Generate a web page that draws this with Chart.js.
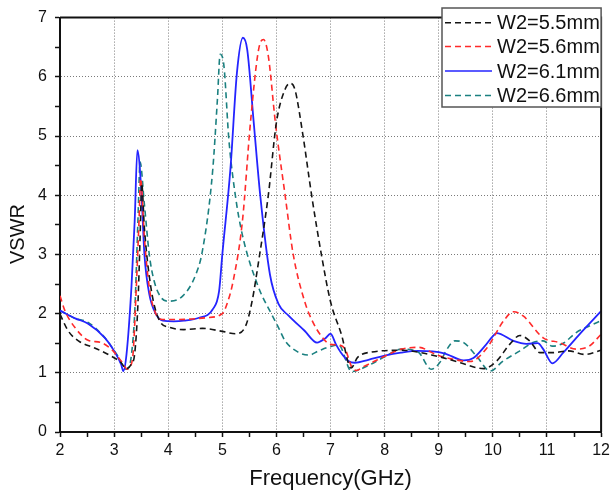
<!DOCTYPE html>
<html>
<head>
<meta charset="utf-8">
<title>VSWR</title>
<script src="https://cdn.jsdelivr.net/npm/chart.js@4.4.0/dist/chart.umd.min.js"></script>
<style>
  html, body { margin: 0; padding: 0; background: #fff; }
  #wrap { width: 614px; height: 492px; }
</style>
</head>
<body>
<div id="wrap"><canvas id="myChart" width="614" height="492"></canvas></div>
<script>
// series (frequency in GHz, VSWR)
var labels = ['W2=5.5mm', 'W2=5.6mm', 'W2=6.1mm', 'W2=6.6mm']

var f55 = [2.0, 2.15, 2.34, 2.64, 2.95, 3.13, 3.22, 3.32, 3.38, 3.44, 3.48, 3.51, 3.56, 3.68, 3.84, 4.02, 4.29, 4.63, 5.0, 5.24, 5.43, 5.55, 5.67, 5.85, 6.0, 6.16, 6.25, 6.34, 6.49, 6.65, 6.83, 7.0, 7.2, 7.38, 7.5, 7.76, 8.31, 8.97, 9.4, 9.83, 10.07, 10.31, 10.5, 10.68, 10.87, 11.1, 11.4, 11.7, 12.0]
var v55 = [1.99, 1.71, 1.54, 1.42, 1.28, 1.17, 1.07, 1.15, 1.32, 2.16, 3.28, 4.2, 3.44, 2.44, 1.88, 1.77, 1.73, 1.75, 1.7, 1.66, 1.79, 2.21, 2.88, 4.0, 5.23, 5.79, 5.89, 5.79, 5.01, 4.0, 3.0, 2.2, 1.65, 1.08, 1.26, 1.35, 1.38, 1.28, 1.17, 1.07, 1.2, 1.48, 1.63, 1.54, 1.34, 1.34, 1.37, 1.31, 1.38]

var f56 = [2.0, 2.09, 2.28, 2.52, 2.76, 2.98, 3.13, 3.25, 3.29, 3.35, 3.41, 3.46, 3.49, 3.56, 3.65, 3.77, 3.9, 4.17, 4.7, 5.0, 5.1, 5.2, 5.37, 5.52, 5.67, 5.76, 5.85, 5.98, 6.16, 6.31, 6.52, 6.65, 6.83, 7.0, 7.15, 7.27, 7.39, 7.48, 7.6, 7.76, 8.0, 8.31, 8.62, 8.97, 9.2, 9.58, 9.89, 10.2, 10.38, 10.56, 10.93, 11.23, 11.54, 11.78, 12.0]
var v56 = [2.3, 2.05, 1.76, 1.55, 1.51, 1.37, 1.2, 1.06, 1.1, 1.32, 2.44, 3.56, 4.28, 3.28, 2.44, 2.0, 1.9, 1.9, 1.93, 2.0, 2.2, 2.55, 3.55, 5.23, 6.46, 6.63, 6.35, 5.23, 4.0, 3.0, 2.21, 1.9, 1.62, 1.48, 1.47, 1.4, 1.1, 1.04, 1.1, 1.17, 1.28, 1.4, 1.43, 1.3, 1.24, 1.19, 1.42, 1.88, 2.03, 1.96, 1.59, 1.51, 1.4, 1.45, 1.65]

var f61 = [2.0, 2.28, 2.52, 2.83, 3.0, 3.13, 3.17, 3.23, 3.32, 3.38, 3.43, 3.5, 3.56, 3.65, 3.77, 3.9, 4.1, 4.29, 4.57, 4.82, 4.94, 5.0, 5.15, 5.27, 5.38, 5.46, 5.58, 5.7, 5.88, 6.04, 6.22, 6.52, 6.75, 6.9, 7.0, 7.1, 7.2, 7.33, 7.45, 7.7, 8.0, 8.3, 8.62, 9.1, 9.46, 9.64, 9.85, 10.0, 10.07, 10.38, 10.62, 10.83, 10.93, 11.1, 11.3, 11.6, 12.0]
var v61 = [2.05, 1.92, 1.83, 1.59, 1.37, 1.14, 1.03, 1.32, 2.44, 3.56, 4.76, 4.12, 3.0, 2.33, 2.0, 1.88, 1.87, 1.88, 1.93, 2.07, 2.38, 3.0, 4.45, 6.07, 6.66, 6.46, 5.23, 4.0, 2.66, 2.16, 1.97, 1.71, 1.51, 1.58, 1.66, 1.48, 1.33, 1.2, 1.17, 1.22, 1.29, 1.34, 1.37, 1.33, 1.21, 1.25, 1.45, 1.62, 1.67, 1.54, 1.49, 1.5, 1.4, 1.16, 1.34, 1.65, 2.04]

var f66 = [2.0, 2.28, 2.52, 2.83, 3.07, 3.22, 3.28, 3.32, 3.38, 3.44, 3.48, 3.56, 3.65, 3.74, 3.87, 4.0, 4.27, 4.51, 4.63, 4.82, 4.91, 4.96, 5.03, 5.12, 5.24, 5.37, 5.67, 5.91, 6.04, 6.16, 6.4, 6.6, 6.78, 7.02, 7.15, 7.39, 7.69, 8.0, 8.31, 8.62, 8.86, 9.04, 9.12, 9.3, 9.46, 9.7, 9.95, 10.19, 10.5, 10.74, 10.93, 11.1, 11.3, 11.54, 11.78, 12.0]
var v66 = [2.05, 1.92, 1.85, 1.59, 1.28, 1.06, 1.11, 1.3, 2.0, 3.56, 4.56, 3.84, 3.0, 2.55, 2.27, 2.21, 2.3, 2.66, 3.05, 4.4, 5.63, 6.38, 6.18, 4.95, 4.0, 3.33, 2.44, 1.99, 1.76, 1.54, 1.35, 1.3, 1.37, 1.45, 1.47, 1.02, 1.12, 1.27, 1.4, 1.35, 1.06, 1.2, 1.35, 1.54, 1.51, 1.28, 1.03, 1.2, 1.37, 1.51, 1.54, 1.45, 1.5, 1.68, 1.79, 1.88]

var xTicks = [2, 3, 4, 5, 6, 7, 8, 9, 10, 11, 12]
var yTicks = [0, 1, 2, 3, 4, 5, 6, 7]

var colors = ['#151515', '#ff2a2a', '#2424ff', '#1b8080']
var dashes = [[6, 4], [6, 4], [], [6, 4]]

function pts (xs, ys) {
  var out = []
  for (var i = 0; i < xs.length; i++) {
    out.push({x: xs[i], y: ys[i]})
  }
  return out
}

var series = [pts(f55, v55), pts(f56, v56), pts(f61, v61), pts(f66, v66)]
var datasets = []
for (var i = 0; i < series.length; i++) {
  datasets.push({
    label: labels[i],
    data: series[i],
    borderColor: colors[i],
    borderWidth: i == 2 ? 1.8 : 1.6,
    borderDash: dashes[i],
    pointRadius: 0,
    fill: false,
    cubicInterpolationMode: 'monotone'
  })
}

var FONT = 'Liberation Sans, Arial, sans-serif'

function isMajor (v, list) {
  return list.indexOf(v) >= 0
}

// grid only on inner integer values, minor half-steps only get ticks
function gridColor (list, lo, hi) {
  return function (c) {
    var v = c.tick ? c.tick.value : null
    if (v !== null && isMajor(v, list) && v > lo && v < hi) return '#7a7a7a'
    return 'rgba(0,0,0,0)'
  }
}

// top/right frame + legend box + y title
var extras = {
  id: 'extras',
  afterDraw (chart) {
    var ctx = chart.ctx
    var a = chart.chartArea
    ctx.save()
    ctx.strokeStyle = '#111'
    ctx.lineWidth = 2
    ctx.beginPath()
    ctx.moveTo(a.left, a.top)
    ctx.lineTo(a.right, a.top)
    ctx.lineTo(a.right, a.bottom)
    ctx.stroke()

    // legend
    var bx = 442, by = 8, bw = a.right - 442, bh = 99
    ctx.fillStyle = '#fff'
    ctx.fillRect(bx, by, bw, bh)
    ctx.strokeStyle = '#555'
    ctx.lineWidth = 1.5
    ctx.strokeRect(bx, by, bw, bh)
    var rows = [22.7, 46.5, 71, 95.5]
    ctx.font = '20px ' + FONT
    ctx.textBaseline = 'middle'
    ctx.textAlign = 'left'
    for (var i = 0; i < labels.length; i++) {
      ctx.strokeStyle = colors[i]
      ctx.lineWidth = 1.6
      ctx.setLineDash(dashes[i])
      ctx.beginPath()
      ctx.moveTo(445, rows[i])
      ctx.lineTo(492, rows[i])
      ctx.stroke()
      ctx.setLineDash([])
      ctx.fillStyle = '#111'
      ctx.fillText(labels[i], 497, rows[i] + 1)
    }

    // y title
    ctx.translate(18, 234)
    ctx.rotate(-Math.PI / 2)
    ctx.textAlign = 'center'
    ctx.font = '20px ' + FONT
    ctx.fillText('VSWR', 0, 0)
    ctx.restore()
  }
}

var ctx = document.getElementById('myChart').getContext('2d')
var chart = new Chart(ctx, {
  type: 'line',
  data: {datasets: datasets},
  plugins: [extras],
  options: {
    responsive: false,
    animation: false,
    layout: {padding: {top: 15, right: 9, left: 0, bottom: 0}},
    plugins: {
      legend: {display: false},
      tooltip: {enabled: false}
    },
    scales: {
      x: {
        type: 'linear',
        min: 2,
        max: 12,
        afterFit (s) { s.height = 60 },
        ticks: {
          stepSize: 0.5,
          autoSkip: false,
          maxRotation: 0,
          padding: 4,
          color: '#111',
          font: {family: FONT, size: 16},
          callback (v) { return isMajor(v, xTicks) ? String(v) : '' }
        },
        grid: {
          color: gridColor(xTicks, 2, 12),
          lineWidth: 1,
          tickColor: '#111',
          tickWidth: 1.5,
          tickLength: 5
        },
        border: {display: true, color: '#111', width: 2, dash: [1, 2]},
        title: {
          display: true,
          text: 'Frequency(GHz)',
          color: '#111',
          font: {family: FONT, size: 22},
          padding: {top: 0, bottom: 0}
        }
      },
      y: {
        min: 0,
        max: 7,
        afterFit (s) { s.width = 60 },
        ticks: {
          stepSize: 0.5,
          autoSkip: false,
          padding: 8,
          color: '#111',
          font: {family: FONT, size: 16},
          callback (v) { return isMajor(v, yTicks) ? String(v) : '' }
        },
        grid: {
          color: gridColor(yTicks, 0, 7),
          lineWidth: 1,
          tickColor: '#111',
          tickWidth: 1.5,
          tickLength: 5
        },
        border: {display: true, color: '#111', width: 2, dash: [1, 2]}
      }
    }
  }
})
</script>
</body>
</html>
